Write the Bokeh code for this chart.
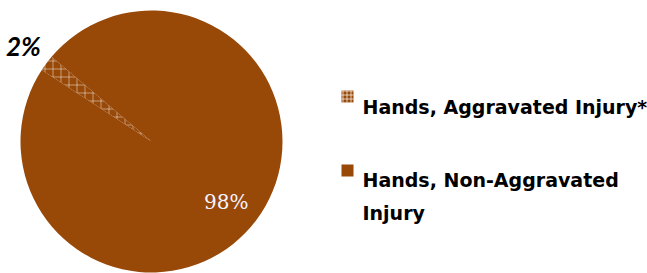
import numpy as np
from bokeh.plotting import figure
from bokeh.models import Range1d, ColumnDataSource
from bokeh.core.properties import value
from bokeh.embed import file_html
from bokeh.resources import INLINE

# ---- data ----
categories = ["Hands, Aggravated Injury*", "Hands, Non-Aggravated Injury"]
shares = [2, 98]
pct_labels = ["2%", "98%"]
legend_lines = [["Hands, Aggravated Injury*"], ["Hands, Non-Aggravated", "Injury"]]

# ---- style / layout ----
W, H = 647, 273
CX, CY, R = 151, 132, 131
START_DEG = 146.9          # first slice starts here, slices go clockwise
BROWN = "#984807"
label_r = [1.22, 0.74]

p = figure(width=W, height=H, output_backend="svg", toolbar_location=None,
           x_range=Range1d(0, W), y_range=Range1d(0, H), min_border=0)
p.axis.visible = False
p.grid.visible = False
p.outline_line_color = None
p.background_fill_color = "white"

vals = np.array(shares, dtype=float)
frac = vals / vals.sum()
ends = np.cumsum(frac) * 2 * np.pi
starts = np.concatenate([[0], ends[:-1]])
start_a = np.deg2rad(START_DEG) - starts
end_a = np.deg2rad(START_DEG) - ends
mid_a = (start_a + end_a) / 2

hatches = ["cross", " "]
src = ColumnDataSource(dict(start=start_a, end=end_a, hatch=hatches,
                            x=[CX] * 2, y=[CY] * 2))
p.wedge(x="x", y="y", radius=R, start_angle="start", end_angle="end",
        direction="clock", source=src, fill_color=BROWN, line_color=None,
        hatch_pattern="hatch", hatch_color="white", hatch_scale=8,
        hatch_weight=1, hatch_alpha=0.45)

# percentage labels
lx = CX + np.array(label_r) * R * np.cos(mid_a)
ly = CY + np.array(label_r) * R * np.sin(mid_a)
p.text(x=[lx[0]], y=[ly[0]], text=[pct_labels[0]], text_font=value("Lato"),
       text_font_style="bold italic", text_font_size="26px", text_color="black",
       text_align="center", text_baseline="middle")
p.text(x=[lx[1]], y=[ly[1]], text=[pct_labels[1]], text_font=value("DejaVu Serif"),
       text_font_size="20px", text_color="#F4F2FF", x_offset=-3, y_offset=3,
       text_align="center", text_baseline="middle")

# legend
sw_x = 347
sw_y = [177, 103]
baselines = [[167], [94, 61]]
p.rect(x=[sw_x] * 2, y=sw_y, width=12, height=12, fill_color=BROWN, line_color=None,
       hatch_pattern=hatches, hatch_color="white", hatch_scale=4, hatch_weight=1,
       hatch_alpha=0.7)
for lines, bls in zip(legend_lines, baselines):
    p.text(x=[362] * len(lines), y=bls, text=lines, text_font=value("DejaVu Sans"),
           text_font_style="bold", text_font_size="19px", text_color="black",
           text_align="left", text_baseline="alphabetic")

open("out.html", "w").write(file_html(p, INLINE))
